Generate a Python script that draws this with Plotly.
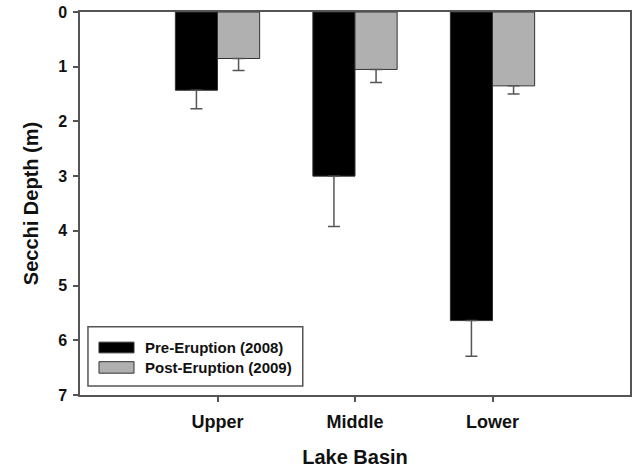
import plotly.graph_objects as go

# Secchi depth by lake basin, before and after the eruption
basins = ["Upper", "Middle", "Lower"]
series_names = ["Pre-Eruption (2008)", "Post-Eruption (2009)"]
pre_depth = [1.43, 3.0, 5.64]
pre_err = [0.34, 0.92, 0.65]
post_depth = [0.85, 1.05, 1.35]
post_err = [0.22, 0.24, 0.15]
y_ticks = [0, 1, 2, 3, 4, 5, 6, 7]

colors = ["#000000", "#b0b0b0"]
axis_col = "#555555"
font_family = "Liberation Sans, Arial, sans-serif"

fig = go.Figure()
for name, vals, errs, col in [
    (series_names[0], pre_depth, pre_err, colors[0]),
    (series_names[1], post_depth, post_err, colors[1]),
]:
    fig.add_trace(go.Bar(
        x=basins, y=vals, name=name,
        marker=dict(color=col, line=dict(color="#333333", width=1)),
        error_y=dict(type="data", symmetric=False, array=errs,
                     arrayminus=[0] * len(errs),
                     color=axis_col, thickness=1.5, width=6),
        showlegend=False,
    ))

# Legend box drawn in paper space
shapes = [dict(type="rect", xref="paper", yref="paper",
               x0=0.0145, x1=0.405, y0=0.0235, y1=0.178,
               line=dict(color=axis_col, width=1.5), fillcolor="white")]
annotations = []
sw_rows = [(0.110, 0.138, 0.125), (0.057, 0.087, 0.072)]
for (y0, y1, yc), name, col in zip(sw_rows, series_names, colors):
    shapes.append(dict(type="rect", xref="paper", yref="paper",
                       x0=0.0345, x1=0.0982, y0=y0, y1=y1,
                       line=dict(color="#333333", width=1), fillcolor=col))
    annotations.append(dict(xref="paper", yref="paper", x=0.1145, y=yc,
                            text=name, showarrow=False,
                            xanchor="left", yanchor="middle",
                            font=dict(size=15, color="#111111",
                                      family=font_family, weight="bold")))

fig.update_layout(
    width=637, height=468,
    margin=dict(l=80, r=7, t=12, b=73),
    paper_bgcolor="white", plot_bgcolor="white",
    barmode="group", bargap=0.387, bargroupgap=0,
    font=dict(family=font_family, color="#111111"),
    shapes=shapes, annotations=annotations,
    xaxis=dict(
        range=[-1, 3], automargin=False,
        showline=True, linecolor=axis_col, linewidth=1.5, mirror=True,
        ticks="outside", ticklen=5, tickcolor=axis_col, tickwidth=1.5,
        tickfont=dict(size=18, family=font_family, weight="bold"),
        ticklabelstandoff=5,
        title=dict(text="Lake Basin",
                   font=dict(size=20, weight="bold"), standoff=20),
        showgrid=False, zeroline=False,
    ),
    yaxis=dict(
        range=[7, 0], tickvals=y_ticks, automargin=False,
        showline=True, linecolor=axis_col, linewidth=1.5, mirror=True,
        ticks="outside", ticklen=5, tickcolor=axis_col, tickwidth=1.5,
        tickfont=dict(size=16, family=font_family, weight="bold"),
        ticklabelstandoff=3,
        title=dict(text="Secchi Depth (m)",
                   font=dict(size=20, weight="bold"), standoff=14),
        showgrid=False, zeroline=False,
    ),
)

fig.write_html("out.html")
